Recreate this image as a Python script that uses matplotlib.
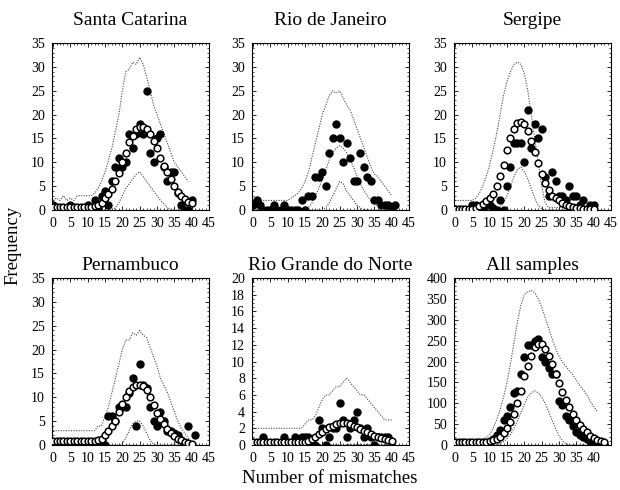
import numpy as np
import matplotlib
matplotlib.use("Agg")
import matplotlib.pyplot as plt
from matplotlib.ticker import MultipleLocator

plt.rcParams['font.family'] = ['Liberation Serif', 'DejaVu Serif']

titles = ["Santa Catarina", "Rio de Janeiro", "Sergipe",
          "Pernambuco", "Rio Grande do Norte", "All samples"]

# ---- Santa Catarina ----
sc_obs = [1, 0, 0, 0, 0, 1, 0, 0, 0, 0, 1, 0, 2, 0.5, 3, 4, 1, 6, 9, 11, 9, 10, 16, 13, 16,
          18, 16, 25, 12, 10, 15, 16, 9, 6, 8, 8, 3.5, 1, 0, 0, 2]
sc_exp = [0.7, 0.7, 0.7, 0.7, 0.7, 0.7, 0.7, 0.7, 0.7, 0.7, 0.7, 0.7, 0.8, 1, 1.5, 2.5, 3.3, 4.5,
          6, 7.8, 10, 12, 14.3, 15.5, 17, 17.5, 17.3, 17, 16, 14.5, 13, 11, 9.3, 8, 6.5, 5, 3.7,
          3, 2.3, 1.7, 1.5]
sc_up = [2, 2.5, 2, 3, 2, 2.5, 2, 3, 3, 3, 3, 3, 3.5, 4.5, 6, 8, 10.5, 13, 16.5, 20, 25, 29, 29.5,
         31, 30.5, 32, 30.5, 28, 25, 22, 20, 18, 16, 14, 12, 10, 9, 8, 7, 6]
sc_lo = [0, 0, 0, 0, 0, 0, 0, 0, 0, 0, 0, 0, 0, 0, 0, 0, 0, 0, 0.5, 1.5, 3, 4.5, 5.5, 6.5, 7.5,
         8, 7, 6, 5, 4, 3, 2, 1.3, 0.5, 0.1, 0, 0, 0, 0, 0]

# ---- Rio de Janeiro ----
rj_obs = [1, 2, 1, 0, 0, 0, 1, 0, 0, 1, 0, 0, 0, 0, 2, 0, 3, 3, 7, 7, 8, 5, 12, 15, 18, 15, 10,
          14, 11, 6, 6, 12, 9, 7, 6, 2, 2, 1, 1, 1, 0, 1]
rj_exp = [0, 0, 0, 0, 0, 0, 0, 0, 0, 0, 0, 0, 0, 0, 0, 0.2, 0.5, 1.5, 3, 4.5, 6.5, 8.5, 10.5, 12,
          13, 13.5, 13, 12, 10.5, 9, 7, 5.5, 4, 3, 2, 1.3, 0.8, 0.5, 0.3, 0.2, 0.1]
rj_up = [2, 2, 2, 2, 2, 2, 2, 2, 2, 2, 2, 2.5, 3, 3.5, 4.5, 6, 8, 11, 14, 17, 20, 22, 24, 25,
         24.5, 25, 23.5, 22, 21, 19, 17, 15, 13, 11, 9, 7.5, 7, 6, 5, 4, 3]
rj_lo = [0, 0, 0, 0, 0, 0, 0, 0, 0, 0, 0, 0, 0, 0, 0, 0, 0, 0, 0, 0, 0, 0.5, 1.5, 3, 4.5, 6,
         5.5, 4, 3, 2, 1, 0.5, 0, 0, 0, 0, 0, 0, 0, 0, 0]

# ---- Sergipe ----
se_obs = [0, 0, 0, 0, 0, 1, 1, 0.5, 0.5, 1, 1, 0.5, 0, 2, 0, 5, 9, 14, 14, 14, 10, 21, 13, 18,
          15, 17, 7, 3, 8, 6, 3, 3, 2, 5, 3, 3, 1, 2, 0, 1, 1]
se_exp = [0.3, 0.3, 0.3, 0.3, 0.3, 0.3, 0.5, 0.8, 1.2, 1.8, 2.5, 3.3, 5, 7.2, 9.5, 12.5, 15, 17,
          18.2, 18.5, 18, 16.5, 14.5, 12.2, 9.8, 7.5, 5.7, 4.2, 3, 2.5, 2, 1.5, 1, 0.8, 0.6, 0.5,
          0.4, 0.3, 0.3, 0.3, 0.3]
se_up = [2, 2, 2, 2, 2, 2, 2.5, 3.5, 5, 7, 9.5, 12.5, 16, 20, 24, 27, 29, 30.5, 31, 30.5, 28.5,
         25, 20, 15, 10, 5, 1.5, 0.5, 0.5, 0.5, 0.5, 0.5, 0.5, 0.5, 0.5, 0.5, 0.5, 0.5, 0.5, 0.5,
         0.5]
se_lo = [0, 0, 0, 0, 0, 0, 0, 0, 0, 0, 0, 0, 0, 0.5, 1.5, 3, 5, 7, 8.5, 9, 8, 6.5, 4.5, 2.5, 1,
         0.2, 0, 0, 0, 0, 0, 0, 0, 0, 0, 0, 0, 0, 0, 0, 0]

# ---- Pernambuco ----
pe_obs = [0.5, 0.5, 0, 0.5, 0, 0.5, 0, 0.5, 0, 0.5, 0, 0.5, 0, 0.5, 1, 0, 6, 6, 5, 8, 8, 8, 11,
          14, 4, 17, 12.5, 12, 8, 5, 4, 7, 5, 3, 3, 2.5, 2, 1, 0.5, 4, 0, 2]
pe_exp = [0.8, 0.8, 0.8, 0.8, 0.8, 0.8, 0.8, 0.8, 0.8, 0.8, 0.8, 0.8, 0.8, 1, 1.3, 2, 3, 4, 5, 7,
          8.5, 10, 11.3, 12.2, 12.5, 12.5, 12.3, 11.5, 10, 8.3, 6.8, 5.5, 4.3, 3.3, 2.5, 1.8, 1.3,
          1, 0.7, 0.5, 0.3]
pe_up = [3, 3, 3, 3, 3, 3, 3, 3, 3, 3, 3, 3, 3, 4, 4, 6, 8, 11, 14, 17, 20, 22, 22, 23.5, 23, 24,
         23, 22.5, 20.5, 18.5, 16.5, 14, 12.5, 11, 9, 7, 5, 3.5, 2.5, 1.5, 0.5]
pe_lo = [0, 0, 0, 0, 0, 0, 0, 0, 0, 0, 0, 0, 0, 0, 0, 0, 0, 0, 0, 0, 0.3, 1.5, 3, 4.5, 5, 5, 4,
         2.5, 1, 0.2, 0, 0, 0, 0, 0, 0, 0, 0, 0, 0, 0]

# ---- Rio Grande do Norte ----
rn_obs = [0, 0, 0, 1, 0, 0, 0, 0, 0, 1, 0, 0, 1, 0, 1, 1, 1, 0, 0, 3, 2, 0, 1, 2, 2, 5, 3, 1, 2,
          3, 4, 2, 1, 2, 1, 0, 1, 1, 1, 1]
rn_exp = [0.4, 0.4, 0.4, 0.4, 0.4, 0.4, 0.4, 0.4, 0.4, 0.4, 0.4, 0.4, 0.4, 0.4, 0.4, 0.4, 0.5,
          0.7, 1, 1.3, 1.6, 1.9, 2.1, 2.3, 2.5, 2.6, 2.6, 2.6, 2.5, 2.3, 2.1, 1.9, 1.7, 1.5, 1.3,
          1.1, 0.9, 0.8, 0.7, 0.6, 0.5]
rn_up = [2, 2, 2, 2, 2, 2, 2, 2, 2, 2, 2, 2, 2, 2, 2, 2.5, 3, 3, 3.5, 4.5, 5.5, 6, 6, 6.5, 7, 7,
         7.5, 8, 7.5, 7, 6.5, 6, 6, 5.5, 5, 4.5, 4, 3.5, 3, 3, 3]
rn_lo = [0.1] * 41

# ---- All samples ----
al_obs = [5, 5, 5, 5, 5, 5, 5, 5, 5, 5, 8, 15, 25, 35, 60, 70, 90, 125, 130, 170, 210, 240, 240,
          250, 255, 210, 200, 185, 170, 170, 105, 95, 70, 60, 45, 30, 25, 20, 15, 10, 5, 3, 2, 0]
al_exp = [8, 8, 8, 8, 8, 8, 8, 8, 8, 8, 10, 12, 15, 20, 28, 40, 55, 75, 100, 130, 165, 190, 212,
          235, 243, 243, 230, 212, 195, 170, 148, 128, 108, 90, 75, 60, 48, 38, 30, 22, 17, 13,
          10, 8]
al_up = [10, 10, 10, 10, 11, 12, 13, 14, 15, 18, 25, 40, 60, 85, 115, 150, 195, 245, 295, 335,
         360, 368, 370, 365, 350, 330, 305, 280, 255, 232, 212, 198, 188, 178, 168, 155, 142, 132,
         120, 105, 92, 80]
al_lo = [0, 0, 0, 0, 0, 0, 0, 0, 0, 0, 0, 0, 0, 3, 8, 15, 25, 40, 58, 78, 98, 115, 125, 130, 125,
         115, 100, 80, 60, 40, 22, 10, 3, 0, 0, 0, 0, 0, 0, 0, 0, 0]

panels = [
    (sc_obs, sc_exp, sc_up, sc_lo, "circles", 35, 5, 1),
    (rj_obs, rj_exp, rj_up, rj_lo, "line", 35, 5, 1),
    (se_obs, se_exp, se_up, se_lo, "circles", 35, 5, 1),
    (pe_obs, pe_exp, pe_up, pe_lo, "circles", 35, 5, 1),
    (rn_obs, rn_exp, rn_up, rn_lo, "circles", 20, 2, 0.5),
    (al_obs, al_exp, al_up, al_lo, "circles", 400, 50, 10),
]

fig = plt.figure(figsize=(6.2, 4.9), dpi=100)
W, H = 620, 490
lefts = [52, 252, 454]
tops = [43, 278]
aw, ah = 157, 167

dot = (0, (1, 1.3))
for i, (obs, exp, up, lo, mode, ymax, ymaj, ymin) in enumerate(panels):
    r, c = divmod(i, 3)
    ax = fig.add_axes([lefts[c] / W, (H - tops[r] - ah) / H, aw / W, ah / H])
    ax.plot(np.arange(len(up)), up, color='#444444', lw=0.8, ls=dot)
    ax.plot(np.arange(len(lo)), lo, color='#444444', lw=0.8, ls=dot)
    ax.plot(np.arange(len(obs)), obs, 'o', color='black', ms=5.0, zorder=3)
    if mode == "line":
        ax.plot(np.arange(len(exp)), exp, color='#444444', lw=0.8, ls=dot)
    else:
        ax.plot(np.arange(len(exp)), exp, 'o', mfc='white', mec='black', mew=1.1, ms=4.8,
                zorder=4)
    ax.set_xlim(-0.3, 45)
    ax.set_ylim(0, ymax)
    if i == 5:
        ax.set_xticks(np.arange(0, 41, 5))
    else:
        ax.set_xticks(np.arange(0, 46, 5))
    ax.set_yticks(np.arange(0, ymax + 0.1, ymaj))
    ax.xaxis.set_minor_locator(MultipleLocator(1))
    ax.yaxis.set_minor_locator(MultipleLocator(ymin))
    ax.tick_params(which='both', direction='in', top=True, right=True, labelsize=10, pad=5)
    ax.tick_params(which='major', length=3, width=0.6)
    ax.tick_params(which='minor', length=1.5, width=0.5)
    for s in ax.spines.values():
        s.set_linewidth(0.8)
    ax.set_title(titles[i], fontsize=14, pad=13 if r == 0 else 6)

fig.text(330 / W, 1 - 478 / H, "Number of mismatches", ha='center', va='center', fontsize=13.5)
fig.text(13 / W, 1 - 245 / H, "Frequency", ha='center', va='center', rotation=90, fontsize=13.5)

fig.savefig("out.png", dpi=100)
